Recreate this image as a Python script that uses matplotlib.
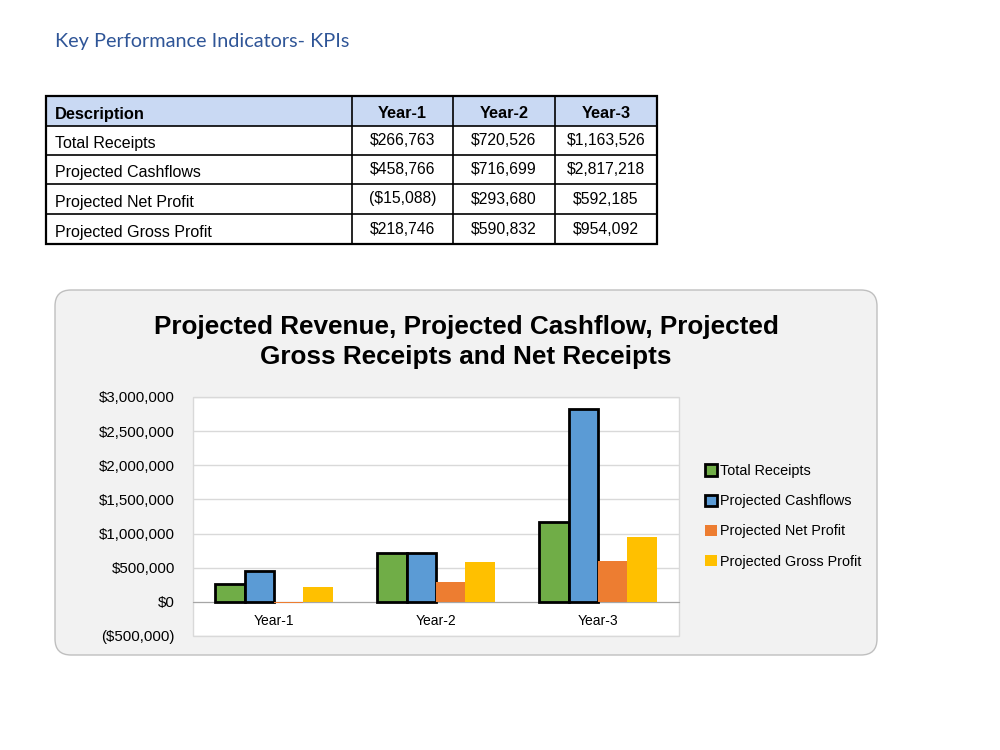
import matplotlib
matplotlib.use("Agg")
import matplotlib.pyplot as plt
import numpy as np
from matplotlib.patches import FancyBboxPatch, Rectangle

plt.rcParams['font.family'] = ['Liberation Sans', 'DejaVu Sans']

# data
years = ["Year-1", "Year-2", "Year-3"]
series_names = ["Total Receipts", "Projected Cashflows", "Projected Net Profit", "Projected Gross Profit"]
total_receipts = [266763, 720526, 1163526]
projected_cashflows = [458766, 716699, 2817218]
projected_net_profit = [-15088, 293680, 592185]
projected_gross_profit = [218746, 590832, 954092]
series_values = [total_receipts, projected_cashflows, projected_net_profit, projected_gross_profit]
series_colors = ["#70AD47", "#5B9BD5", "#ED7D31", "#FFC000"]
series_edges = ["black", "black", "none", "none"]
ytick_values = [-500000, 0, 500000, 1000000, 1500000, 2000000, 2500000, 3000000]


def money(v):
    if v < 0:
        return "(${:,.0f})".format(-v)
    return "${:,.0f}".format(v)


fig = plt.figure(figsize=(10, 7.5), dpi=100)

# page in pixel coords
page = fig.add_axes([0, 0, 1, 1])
page.set_xlim(0, 1000)
page.set_ylim(750, 0)
page.axis("off")

page.text(55, 42, "Key Performance Indicators- KPIs", color="#2F5597", fontsize=14.3,
          family=["Lato", "DejaVu Sans"], va="center", ha="left")

# KPI table
col_edges = [46, 352, 453, 555, 657]
row_edges = [96, 126, 155, 184, 214, 244]
page.add_patch(Rectangle((col_edges[0], row_edges[0]), col_edges[-1] - col_edges[0],
                         row_edges[1] - row_edges[0], fc="#C9D9F3", ec="none"))
for xe in col_edges[1:-1]:
    page.plot([xe, xe], [row_edges[0], row_edges[-1]], color="black", lw=1.2)
for ye in row_edges[1:-1]:
    page.plot([col_edges[0], col_edges[-1]], [ye, ye], color="black", lw=1.2)
page.add_patch(Rectangle((col_edges[0], row_edges[0]), col_edges[-1] - col_edges[0],
                         row_edges[-1] - row_edges[0], fill=False, ec="black", lw=1.6))


def row_mid(i):
    return (row_edges[i] + row_edges[i + 1]) / 2 + 3


page.text(col_edges[0] + 9, row_mid(0), "Description", fontsize=11.8, fontweight="bold",
          va="center", ha="left")
for j, yr in enumerate(years):
    page.text((col_edges[j + 1] + col_edges[j + 2]) / 2, row_mid(0), yr, fontsize=11.8,
              fontweight="bold", va="center", ha="center")
for i, (name, vals) in enumerate(zip(series_names, series_values)):
    page.text(col_edges[0] + 9, row_mid(i + 1), name, fontsize=11.5, va="center", ha="left")
    for j, v in enumerate(vals):
        page.text((col_edges[j + 1] + col_edges[j + 2]) / 2, row_mid(i + 1) - 3, money(v),
                  fontsize=11.3, va="center", ha="center")

# chart area background
page.add_patch(FancyBboxPatch((55, 290), 822, 365, boxstyle="round,pad=0,rounding_size=16",
                              fc="#F2F2F2", ec="#BFBFBF", lw=1))
page.text(466, 342, "Projected Revenue, Projected Cashflow, Projected\nGross Receipts and Net Receipts",
          ha="center", va="center", fontsize=18.8, fontweight="bold", linespacing=1.33)

# chart
ax = fig.add_axes([0.193, 1 - 636 / 750, 0.486, (636 - 397) / 750])
ax.set_facecolor("white")
x = np.arange(len(years))
w = 0.181
for k, (name, vals, c, ec) in enumerate(zip(series_names, series_values, series_colors, series_edges)):
    ax.bar(x + (k - 1.5) * w, vals, w, color=c, edgecolor=ec, linewidth=2 if ec != "none" else 0,
           label=name, zorder=3)

ax.set_xlim(-0.5, 2.5)
ax.set_ylim(-500000, 3000000)
ax.set_yticks(ytick_values)
ax.set_yticklabels([money(v) for v in ytick_values], fontsize=10.8)
ax.set_xticks(x)
ax.set_xticklabels(years, fontsize=12.3)
ax.yaxis.grid(True, color="#D9D9D9", lw=1, zorder=0)
ax.set_axisbelow(True)
ax.tick_params(axis="y", length=0, pad=13)
ax.tick_params(axis="x", length=0, pad=9)
for s in ["top", "left", "right"]:
    ax.spines[s].set_visible(False)
ax.spines["bottom"].set_position(("data", 0))
ax.spines["bottom"].set_color("#A6A6A6")
ax.spines["bottom"].set_zorder(2)
ax.add_patch(Rectangle((0, 0), 1, 1, transform=ax.transAxes, fill=False, ec="#D9D9D9",
                       lw=1, clip_on=False))

leg = ax.legend(loc="upper left", bbox_to_anchor=(705 / 1000, 1 - 464 / 750),
                bbox_transform=fig.transFigure, frameon=False, fontsize=10.4,
                handlelength=0.8, handleheight=0.8, handletextpad=0.25, labelspacing=1.12,
                borderaxespad=0, borderpad=0)

fig.savefig("out.png", dpi=100)
